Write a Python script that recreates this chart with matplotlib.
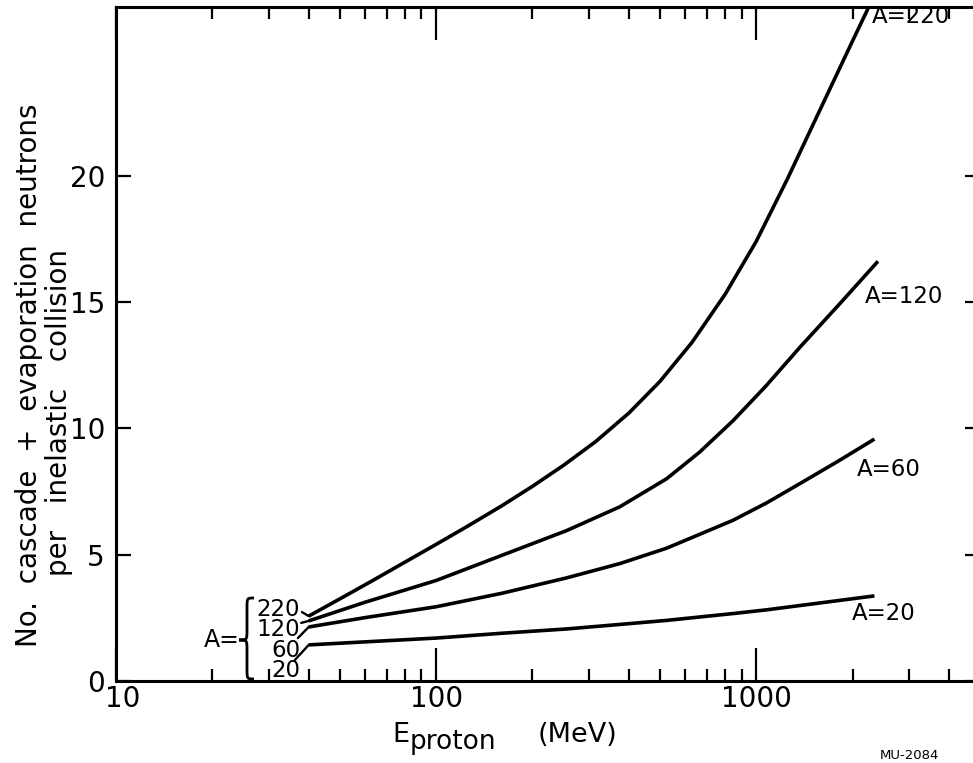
import matplotlib
matplotlib.use("Agg")
import matplotlib.pyplot as plt
import matplotlib.transforms as mtransforms
from matplotlib.path import Path
from matplotlib.patches import PathPatch
from matplotlib.ticker import FixedLocator, LogLocator, NullFormatter

# Neutron yield (cascade + evaporation) per inelastic collision vs proton energy (MeV)
energy_a220 = [40, 50, 63, 80, 100, 125, 160, 200, 250, 315, 400, 500, 630,
               800, 1000, 1250, 1600, 2000, 2250]
yield_a220 = [2.57, 3.25, 3.96, 4.71, 5.41, 6.12, 6.93, 7.71, 8.54, 9.48, 10.61,
              11.86, 13.41, 15.32, 17.41, 19.87, 22.75, 25.35, 26.71]

energy_a120 = [40, 60, 100, 160, 255, 375, 525, 665, 845, 1070, 1370, 1830, 2400]
yield_a120 = [2.38, 3.12, 3.98, 4.97, 5.95, 6.90, 8.01, 9.06, 10.30, 11.67,
              13.22, 14.96, 16.62]

energy_a60 = [40, 60, 100, 160, 255, 375, 525, 845, 1080, 1370, 1800, 2340]
yield_a60 = [2.14, 2.51, 2.94, 3.47, 4.08, 4.65, 5.26, 6.36, 7.06, 7.82, 8.70, 9.58]

energy_a20 = [40, 60, 100, 160, 255, 375, 525, 845, 1080, 1580, 2340]
yield_a20 = [1.43, 1.55, 1.70, 1.89, 2.06, 2.24, 2.40, 2.67, 2.82, 3.09, 3.37]

x_ticks = [10, 100, 1000]
x_tick_labels = ["10", "100", "1000"]
y_ticks = [0, 5, 10, 15, 20]
y_tick_labels = ["0", "5", "10", "15", "20"]

mass_numbers = ["220", "120", "60", "20"]
curves = [
    (energy_a220, yield_a220),
    (energy_a120, yield_a120),
    (energy_a60, yield_a60),
    (energy_a20, yield_a20),
]

plt.rcParams["font.family"] = ["DejaVu Sans"]

W, H = 973, 763
fig = plt.figure(figsize=(W / 100, H / 100), dpi=100)
ax = fig.add_axes([116 / W, (H - 681) / H, 864 / W, 674 / H])

ax.set_xscale("log")
ax.set_xlim(10, 5000)
ax.set_ylim(0, 26.69)

for e, y in curves:
    ax.plot(e, y, color="black", lw=2.6, solid_capstyle="butt",
            solid_joinstyle="round", clip_on=True)

# axes frame and ticks
for sp in ax.spines.values():
    sp.set_linewidth(2.2)
    sp.set_clip_on(False)

ax.xaxis.set_major_locator(FixedLocator(x_ticks))
ax.set_xticklabels(x_tick_labels)
ax.xaxis.set_minor_locator(LogLocator(base=10, subs=range(2, 10)))
ax.xaxis.set_minor_formatter(NullFormatter())
ax.set_yticks(y_ticks)
ax.set_yticklabels(y_tick_labels)

ax.tick_params(axis="x", which="major", direction="in", top=True, bottom=True,
               length=24, width=1.6, labelsize=20, pad=3)
ax.tick_params(axis="x", which="minor", direction="in", top=True, bottom=True,
               length=8.5, width=1.6)
ax.tick_params(axis="y", which="major", direction="in", left=True, right=True,
               length=11, width=1.6, labelsize=20, pad=8)

# shift the "10" label slightly to the right of its tick
lab10 = ax.xaxis.get_major_ticks()[0].label1
lab10.set_transform(lab10.get_transform() +
                    mtransforms.ScaledTranslation(7 / 100, 0, fig.dpi_scale_trans))

# curve labels
ax.text(2304, 26.3, "A=220", fontsize=16.5, ha="left", va="center")
ax.text(2190, 15.21, "A=120", fontsize=16.5, ha="left", va="center")
ax.text(2068, 8.36, "A=60", fontsize=16.5, ha="left", va="center")
ax.text(1995, 2.69, "A=20", fontsize=16.5, ha="left", va="center")

# stacked mass-number key at the start of the curves
ax.text(37.6, 3.29, "\n".join(mass_numbers), fontsize=16.5, ha="right",
        va="top", multialignment="right", linespacing=0.86)
leader_x = [38.1, 37.9, 37.0, 36.2]
leader_y = [2.73, 2.30, 1.70, 0.83]
for (e, y), lx, ly in zip(curves, leader_x, leader_y):
    ax.annotate("", xy=(e[0], y[0]), xytext=(lx, ly),
                arrowprops=dict(arrowstyle="-", lw=1.7, color="black",
                                shrinkA=0, shrinkB=0))

ax.text(24.4, 1.62, "A=", fontsize=17, ha="right", va="center")


def curly_brace(ax, x_mid, x_tip, x_end, y_top, y_tip, y_bot, r):
    verts = [
        (x_end, y_top),
        (x_mid, y_top), (x_mid, y_top), (x_mid, y_top - r),
        (x_mid, y_tip + r),
        (x_mid, y_tip), (x_mid, y_tip), (x_tip, y_tip),
        (x_mid, y_tip), (x_mid, y_tip), (x_mid, y_tip - r),
        (x_mid, y_bot + r),
        (x_mid, y_bot), (x_mid, y_bot), (x_end, y_bot),
    ]
    codes = [Path.MOVETO,
             Path.CURVE4, Path.CURVE4, Path.CURVE4,
             Path.LINETO,
             Path.CURVE4, Path.CURVE4, Path.CURVE4,
             Path.CURVE4, Path.CURVE4, Path.CURVE4,
             Path.LINETO,
             Path.CURVE4, Path.CURVE4, Path.CURVE4]
    patch = PathPatch(Path(verts, codes), fill=False, lw=2.0,
                      edgecolor="black", transform=ax.transAxes, clip_on=False)
    ax.add_patch(patch)


curly_brace(ax, x_mid=(247 - 116) / 864, x_tip=(239 - 116) / 864,
            x_end=(254 - 116) / 864, y_top=(681 - 598) / 674,
            y_tip=(681 - 640) / 674, y_bot=(681 - 679) / 674, r=10 / 674)

# axis titles
fig.text(392 / W, (H - 742) / H, "E", fontsize=19.5, ha="left", va="baseline")
fig.text(410 / W, (H - 749) / H, "proton", fontsize=19, ha="left", va="baseline")
fig.text(538 / W, (H - 742) / H, "(MeV)", fontsize=19.5, ha="left", va="baseline")

fig.text(37 / W, (H - 375) / H, "No.  cascade  +  evaporation  neutrons",
         fontsize=20, rotation=90, rotation_mode="anchor",
         ha="center", va="baseline")
fig.text(67 / W, (H - 412) / H, "per   inelastic   collision",
         fontsize=20, rotation=90, rotation_mode="anchor",
         ha="center", va="baseline")

fig.text(880 / W, (H - 749) / H, "MU-2084", fontsize=9.5, ha="left", va="top")

fig.savefig("out.png", dpi=100)
